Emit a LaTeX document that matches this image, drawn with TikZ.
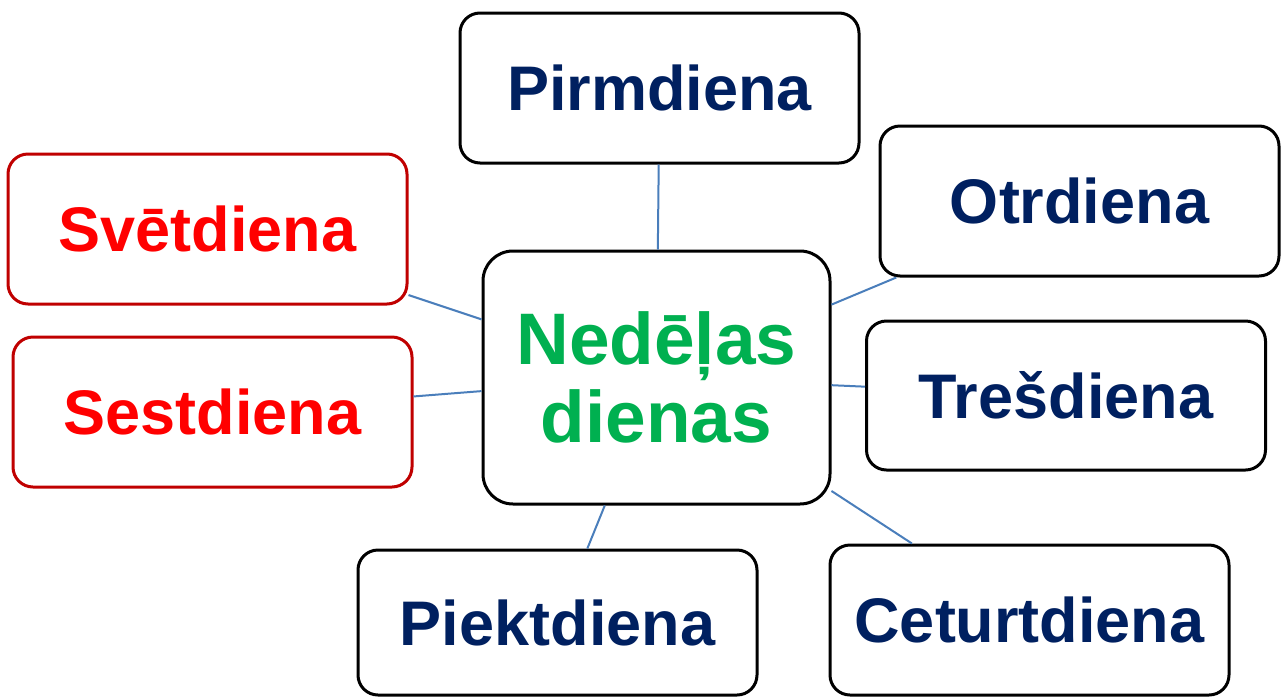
\documentclass[tikz,border=0pt]{standalone}
\usepackage{fontspec}
\setmainfont{Liberation Sans}
\definecolor{dblue}{HTML}{002060}
\definecolor{pgreen}{HTML}{00B050}
\definecolor{bred}{HTML}{C00000}
\definecolor{conn}{HTML}{4A7EBB}
\tikzset{
  day/.style={draw=black, line width=3pt, rounded corners=20pt, fill=white,
    minimum width=399pt, minimum height=150pt, inner sep=0pt,
    text=dblue, font=\fontsize{63}{72}\selectfont\bfseries},
  wkend/.style={day, draw=bred, text=red},
  hub/.style={draw=black, line width=3pt, rounded corners=30pt, fill=white,
    minimum width=347pt, minimum height=253pt, inner sep=0pt, align=center,
    text=pgreen, font=\fontsize{73}{78}\selectfont\bfseries},
  link/.style={draw=conn, line width=2pt}
}
\begin{document}
\begin{tikzpicture}[x=1pt,y=-1pt]
\useasboundingbox (0,0) rectangle (1283,697);
\node[hub] (c) at (656.5,377.5) {Nedēļas\\dienas};
\node[day] (pirm) at (659.5,88) {Pirmdiena};
\node[day] (otr) at (1079.5,201) {Otrdiena};
\node[day, minimum height=149pt] (tres) at (1066,395.5) {Trešdiena};
\node[day] (cet) at (1029.5,620) {Ceturtdiena};
\node[day, minimum height=145pt] (piek) at (557.5,622.5) {Piektdiena};
\node[wkend] (sest) at (212.5,412) {Sestdiena};
\node[wkend] (svet) at (207.5,229) {Svētdiena};
\foreach \n in {pirm,otr,tres,cet,piek,sest,svet}
  \draw[link] (c) -- (\n);
\end{tikzpicture}
\end{document}
